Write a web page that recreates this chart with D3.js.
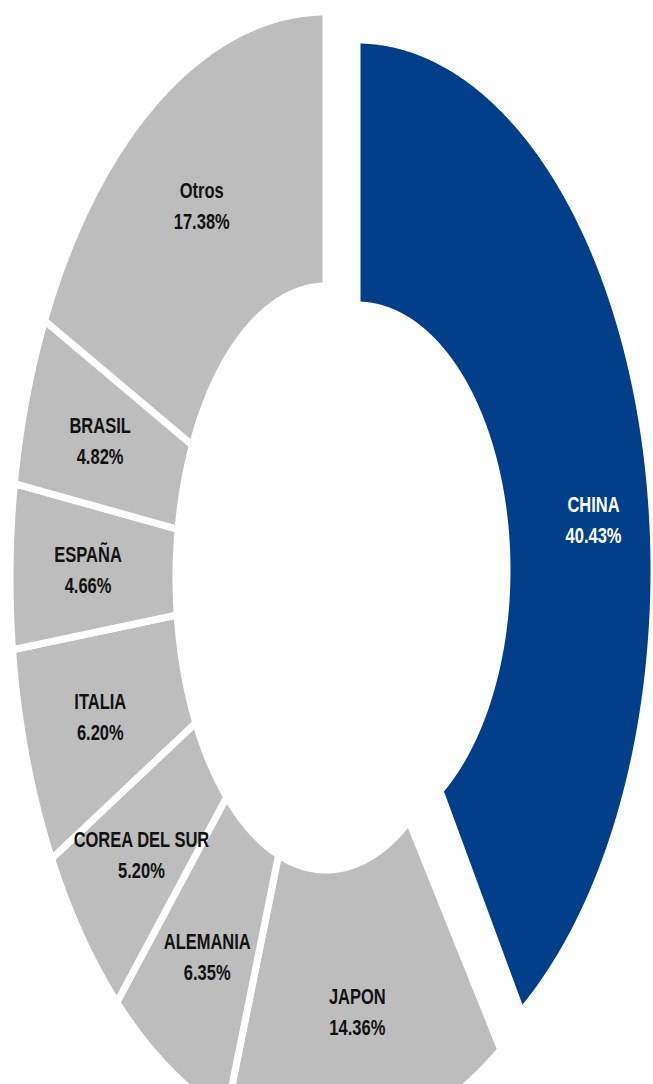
<!DOCTYPE html>
<html><head><meta charset="utf-8">
<script src="https://cdn.jsdelivr.net/npm/d3@7/dist/d3.min.js"></script>
<style>
html,body{margin:0;padding:0;background:#fff;}
svg{display:block;}
text{font-family:"Liberation Sans Narrow","Arial Narrow","Liberation Sans",Arial,sans-serif;font-weight:bold;}
</style></head>
<body>
<svg id="chart" width="653" height="1084"></svg>
<script>
const categories = ["CHINA","JAPON","ALEMANIA","COREA DEL SUR","ITALIA","ESPAÑA","BRASIL","Otros"];
const values = [40.43, 14.36, 6.35, 5.20, 6.20, 4.66, 4.82, 17.38];
const valueLabels = ["40.43%","14.36%","6.35%","5.20%","6.20%","4.66%","4.82%","17.38%"];
const colors = ["#033f88","#bdbdbd","#bdbdbd","#bdbdbd","#bdbdbd","#bdbdbd","#bdbdbd","#bdbdbd"];

const svg = d3.select("#chart");
const RI = 0.5;
// elliptical frames (the reference donut is stretched; the exploded slice has its own frame)
const baseFrame = {cx: 326, cy: 578, ai: 150, bi: 292, ao: 316, bo: 566};
const frames = {CHINA: {cx: 357, cy: 570, ai: 150, bi: 265, ao: 297, bo: 530}};
const labelShift = {CHINA: 10 * Math.PI / 180};
const labelT = {CHINA: 0.6};

function projector(p) {
  return function (x, y) {
    const r = Math.hypot(x, y);
    if (r < 1e-9) return [p.cx, p.cy];
    const t = (r - RI) / (1 - RI);
    const rx = p.ai + t * (p.ao - p.ai), ry = p.bi + t * (p.bo - p.bi);
    return [p.cx + x / r * rx, p.cy + y / r * ry];
  };
}
function projContext(proj) {
  const path = d3.path();
  return {
    path,
    moveTo(x, y) { const q = proj(x, y); path.moveTo(q[0], q[1]); },
    lineTo(x, y) { const q = proj(x, y); path.lineTo(q[0], q[1]); },
    arc(x, y, r, a0, a1) {
      const n = Math.max(2, Math.ceil(Math.abs(a1 - a0) / 0.005));
      for (let i = 0; i <= n; i++) {
        const a = a0 + (a1 - a0) * i / n;
        const q = proj(x + r * Math.cos(a), y + r * Math.sin(a));
        path.lineTo(q[0], q[1]);
      }
    },
    closePath() { path.closePath(); }
  };
}

const pie = d3.pie().sort(null).value(d => d.v);
const data = pie(categories.map((c, i) => ({c, v: values[i], lab: valueLabels[i], col: colors[i]})));
const arc = d3.arc().innerRadius(RI).outerRadius(1);

data.forEach(d => {
  const proj = projector(frames[d.data.c] || baseFrame);
  const ctx = projContext(proj);
  arc.context(ctx)(d);
  svg.append("path")
    .attr("d", ctx.path.toString())
    .attr("fill", d.data.col)
    .attr("stroke", "#fff")
    .attr("stroke-width", 7)
    .attr("stroke-linejoin", "miter");
});

const lg = svg.append("g");
data.forEach(d => {
  const proj = projector(frames[d.data.c] || baseFrame);
  const lt = labelT[d.data.c] != null ? labelT[d.data.c] : 0.53;
  const labelR = RI + lt * (1 - RI);
  const a = (d.startAngle + d.endAngle) / 2 + (labelShift[d.data.c] || 0);
  const [x, y] = proj(labelR * Math.sin(a), -labelR * Math.cos(a));
  const t = lg.append("text")
    .attr("transform", `translate(${x},${y}) scale(0.75,1)`)
    .attr("text-anchor", "middle")
    .attr("font-size", 22)
    .attr("fill", d.data.c === "CHINA" ? "#fff" : "#111");
  t.append("tspan").attr("x", 0).attr("y", -7.5).text(d.data.c);
  t.append("tspan").attr("x", 0).attr("y", 23.5).text(d.data.lab);
});
</script>
</body></html>
